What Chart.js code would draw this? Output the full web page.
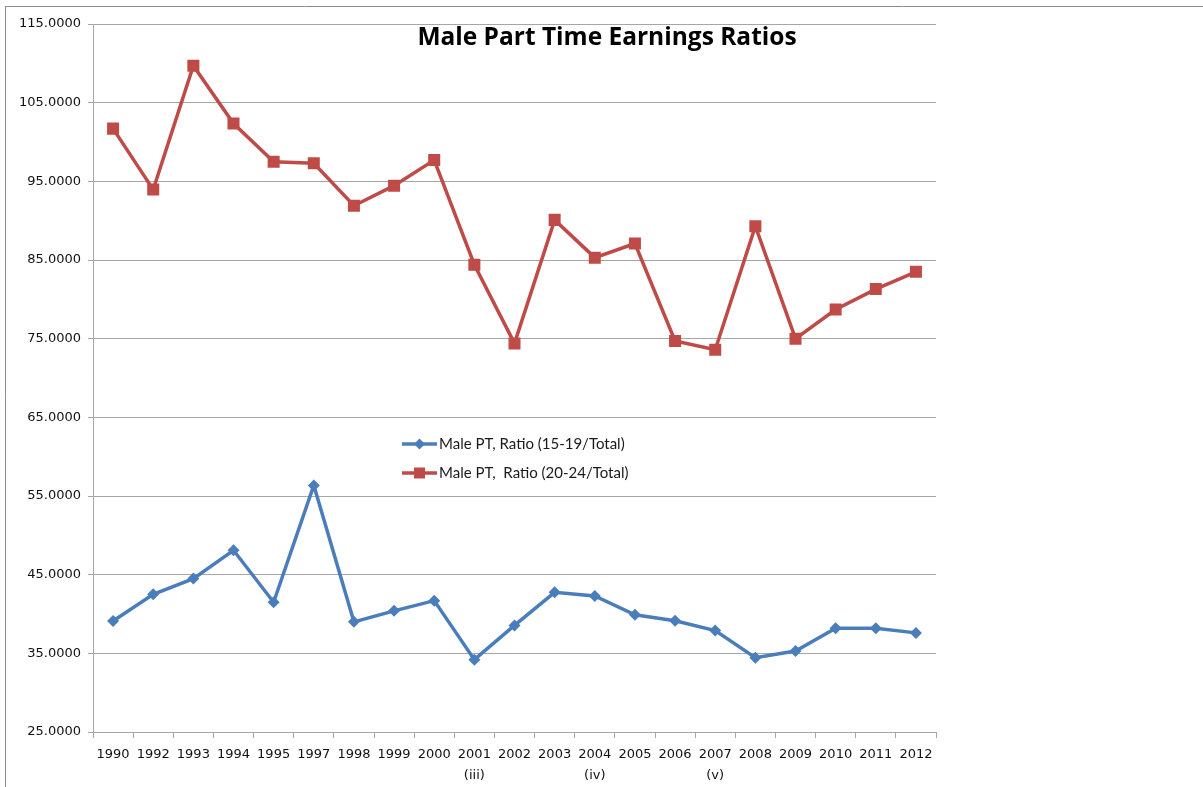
<!DOCTYPE html>
<html>
<head>
<meta charset="utf-8">
<script src="https://cdn.jsdelivr.net/npm/chart.js@4/dist/chart.umd.min.js"></script>
<style>
  html, body { margin: 0; padding: 0; background: #ffffff; }
  #wrap { width: 1203px; height: 787px; position: relative; }
</style>
</head>
<body>
<div id="wrap"><canvas id="c" width="1203" height="787"></canvas></div>
<script>
// ---- Data ----
const years = ["1990","1992","1993","1994","1995","1997","1998","1999","2000","2001","2002","2003","2004","2005","2006","2007","2008","2009","2010","2011","2012"];
const yearNotes = {"2001": "(iii)", "2004": "(iv)", "2007": "(v)"};
const ratio15to19 = [39.1, 42.5, 44.5, 48.1, 41.5, 56.35, 39.0, 40.4, 41.7, 34.2, 38.55, 42.75, 42.3, 39.9, 39.15, 37.9, 34.45, 35.3, 38.2, 38.2, 37.6];
const ratio20to24 = [101.7, 93.95, 109.7, 102.35, 97.5, 97.3, 91.9, 94.45, 97.7, 84.4, 74.4, 90.1, 85.3, 87.1, 74.7, 73.6, 89.3, 75.0, 78.7, 81.3, 83.5];
const seriesNames = ["Male PT, Ratio (15-19/Total)", "Male PT,  Ratio (20-24/Total)"];
const yTicks = { min: 25, max: 115, step: 10 };
const chartTitle = "Male Part Time Earnings Ratios";

const blue = "#4A7EBB";
const red = "#BE4B48";
const gridColor = "#A6A6A6";

const labels = years.map(y => yearNotes[y] ? [y, yearNotes[y]] : y);

const decorPlugin = {
  id: "decor",
  beforeDraw(chart) {
    const ctx = chart.ctx;
    ctx.save();
    ctx.fillStyle = "#ffffff";
    ctx.fillRect(0, 0, chart.width, chart.height);
    ctx.strokeStyle = "#8c8c8c";
    ctx.lineWidth = 1;
    ctx.beginPath();
    ctx.moveTo(5, 6.5); ctx.lineTo(chart.width, 6.5);
    ctx.moveTo(5.5, 6); ctx.lineTo(5.5, chart.height);
    ctx.stroke();
    ctx.restore();
  },
  afterDraw(chart) {
    const ctx = chart.ctx;
    ctx.save();
    // title
    ctx.font = "bold 24.5px 'Open Sans', Lato, sans-serif";
    ctx.fillStyle = "#000000";
    ctx.textAlign = "center";
    ctx.textBaseline = "middle";
    ctx.fillText(chartTitle, 607, 38);
    // legend
    const items = [
      { name: seriesNames[0], color: blue, style: "diamond", y: 444 },
      { name: seriesNames[1], color: red, style: "square", y: 473 }
    ];
    items.forEach(it => {
      ctx.strokeStyle = it.color;
      ctx.lineWidth = 3.5;
      ctx.beginPath();
      ctx.moveTo(402, it.y); ctx.lineTo(437, it.y);
      ctx.stroke();
      ctx.fillStyle = it.color;
      ctx.beginPath();
      const cx = 419.5;
      if (it.style === "diamond") {
        ctx.moveTo(cx, it.y - 5.5); ctx.lineTo(cx + 5.5, it.y);
        ctx.lineTo(cx, it.y + 5.5); ctx.lineTo(cx - 5.5, it.y);
        ctx.closePath();
      } else {
        ctx.rect(cx - 5.5, it.y - 5.5, 11, 11);
      }
      ctx.fill();
      ctx.fillStyle = "#1a1a1a";
      ctx.font = "15px Lato, sans-serif";
      ctx.textAlign = "left";
      ctx.textBaseline = "middle";
      ctx.fillText(it.name, 439, it.y);
    });
    ctx.restore();
  }
};

new Chart(document.getElementById("c"), {
  type: "line",
  data: {
    labels: labels,
    datasets: [
      {
        label: seriesNames[0],
        data: ratio15to19,
        borderColor: blue,
        backgroundColor: blue,
        borderWidth: 3.5,
        pointStyle: "rectRot",
        pointRadius: 6,
        pointHoverRadius: 6,
        pointBorderWidth: 0,
        tension: 0
      },
      {
        label: seriesNames[1],
        data: ratio20to24,
        borderColor: red,
        backgroundColor: red,
        borderWidth: 3.5,
        pointStyle: "rect",
        pointRadius: 8.5,
        pointHoverRadius: 8.5,
        pointBorderWidth: 0,
        tension: 0
      }
    ]
  },
  options: {
    responsive: false,
    animation: false,
    devicePixelRatio: 1,
    layout: { padding: { left: 0, top: 24, right: 267, bottom: 0 } },
    plugins: {
      legend: { display: false },
      title: { display: false },
      tooltip: { enabled: false }
    },
    scales: {
      x: {
        type: "category",
        offset: true,
        grid: {
          offset: true,
          drawOnChartArea: false,
          drawTicks: true,
          tickLength: 6,
          color: gridColor
        },
        border: { color: gridColor, width: 1 },
        ticks: {
          color: "#111111",
          font: { family: "'DejaVu Sans', sans-serif", size: 13, lineHeight: 1.6 },
          maxRotation: 0,
          autoSkip: false,
          padding: 6
        },
        afterFit(scale) { scale.height = 55; }
      },
      y: {
        min: yTicks.min,
        max: yTicks.max,
        ticks: {
          stepSize: yTicks.step,
          color: "#111111",
          font: { family: "'DejaVu Sans', sans-serif", size: 13 },
          padding: 7,
          callback: v => Number(v).toFixed(4)
        },
        grid: {
          color: gridColor,
          lineWidth: 1,
          tickLength: 5,
          drawTicks: true
        },
        border: { color: gridColor, width: 1 },
        afterFit(scale) { scale.width = 93; }
      }
    }
  },
  plugins: [decorPlugin]
});
</script>
</body>
</html>
